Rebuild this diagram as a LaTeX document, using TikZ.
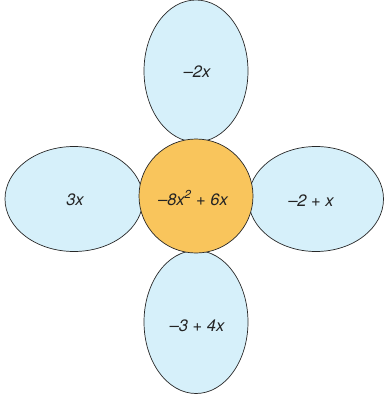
\documentclass[tikz,border=0pt]{standalone}
\usepackage{fontspec}
\setmainfont{TeX Gyre Heros}
\usetikzlibrary{shapes.geometric}
\definecolor{petal}{RGB}{214,240,250}
\definecolor{core}{RGB}{249,197,92}
\definecolor{edge}{RGB}{40,40,40}
\definecolor{ink}{RGB}{35,35,35}
\tikzset{
  petal/.style={ellipse, draw=edge, fill=petal, line width=0.7pt, inner sep=0pt},
  core/.style={circle, draw=edge, fill=core, line width=0.7pt, inner sep=0pt, minimum size=114pt},
  lbl/.style={text=ink, font=\itshape\fontsize{16.5}{19}\selectfont},
}
\begin{document}
\begin{tikzpicture}[x=1pt,y=-1pt]
\useasboundingbox (0,0) rectangle (384,398);
\node[petal, minimum width=104pt, minimum height=142pt] (top) at (196,71) {};
\node[petal, minimum width=104pt, minimum height=143pt] (bottom) at (196,322) {};
\node[petal, minimum width=138pt, minimum height=105pt] (left) at (74,199) {};
\node[petal, minimum width=135pt, minimum height=105pt] (right) at (316,199) {};
\node[core] (center) at (196,196) {};
\node[lbl] (tl) at (197,72) {–2x};
\node[lbl] (ll) at (75,200) {3x};
\node[lbl] (rl) at (311,201) {–2 + x};
\node[lbl] (bl) at (197,326) {–3 + 4x};
\node[lbl] (cl) at (193,198) {–8x\textsuperscript{2} + 6x};
\end{tikzpicture}
\end{document}
